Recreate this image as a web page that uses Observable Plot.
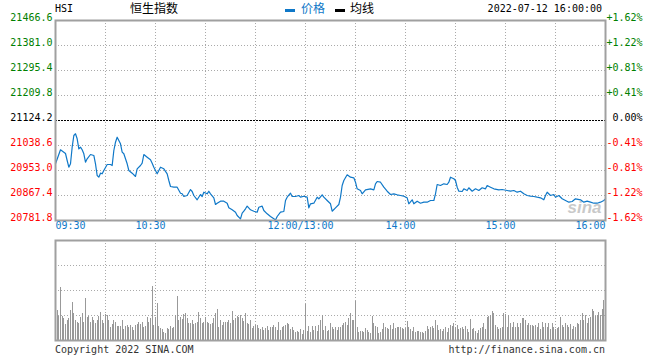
<!DOCTYPE html>
<html><head><meta charset="utf-8">
<script src="https://cdn.jsdelivr.net/npm/d3@7"></script>
<script src="https://cdn.jsdelivr.net/npm/@observablehq/plot@0.6"></script>
<style>
body{margin:0;background:#fff;}
#wrap{position:relative;width:660px;height:360px;overflow:hidden;font-family:"DejaVu Sans Mono",monospace;font-size:10px;background:#fff;}
.abs{position:absolute;white-space:nowrap;line-height:1;}
.cjk{font-family:"Noto Sans CJK SC",sans-serif;font-size:12px;}
#topc,#vol{position:absolute;left:0;}
#topc{top:0}
#vol{top:235px}
.sw{position:absolute;height:3px;width:10px;}
</style></head><body>
<div id="wrap">
<div id="topc"></div><div id="vol"></div>
<div class="abs" style="left:55px;top:4px">HSI</div>
<div class="abs cjk" style="left:130px;top:2px">恒生指数</div>
<div class="sw" style="left:285px;top:9px;background:#0f78c8"></div>
<div class="abs cjk" style="left:301px;top:2px;color:#0f78c8">价格</div>
<div class="sw" style="left:335px;top:9px;background:#000"></div>
<div class="abs cjk" style="left:350px;top:2px">均线</div>
<div class="abs" style="right:58px;top:4px">2022-07-12 16:00:00</div>
<div class="abs" style="left:55px;top:345px;color:#333">Copyright 2022 SINA.COM</div>
<div class="abs" style="right:55px;top:345px;color:#333">http://finance.sina.com.cn</div>
</div>
<script>
const prevClose = 21124.2;
const priceTicks = [21466.6, 21381.0, 21295.4, 21209.8, 21124.2, 21038.6, 20953.0, 20867.4, 20781.8];
const pctLabels = ["+1.62%","+1.22%","+0.81%","+0.41%","0.00%","-0.41%","-0.81%","-1.22%","-1.62%"];
const timeLabels = ["09:30","10:30","12:00/13:00","14:00","15:00","16:00"];
const gridTimes = ["10:00","10:30","11:00","11:30","12:00","13:30","14:00","14:30","15:00","15:30"];

const priceTimes = [
"09:30","09:33","09:35","09:36","09:37","09:38","09:39","09:40","09:41","09:42",
"09:43","09:44","09:45","09:46","09:47","09:48","09:49","09:51","09:53","09:54",
"09:55","09:56","09:57","09:58","09:59","10:01","10:03","10:04","10:05","10:06",
"10:07","10:09","10:10","10:11","10:13","10:14","10:16","10:18","10:19","10:21",
"10:22","10:23","10:25","10:27","10:28","10:29","10:31","10:32","10:33","10:35",
"10:37","10:38","10:39","10:41","10:43","10:45","10:46","10:47","10:49","10:51",
"10:52","10:53","10:55","10:57","10:58","10:59","11:01","11:02","11:03","11:05",
"11:06","11:07","11:09","11:11","11:13","11:14","11:16","11:18","11:19","11:21",
"11:22","11:23","11:24","11:25","11:27","11:29","11:31","11:32","11:34","11:35",
"11:37","11:39","11:41","11:42","11:43","11:45","11:47","11:48","11:49","11:51",
"11:52","11:54","11:56","11:57","11:59",
"13:01","13:02","13:03","13:05","13:07","13:08","13:10","13:11","13:13","13:15",
"13:16","13:18","13:20","13:21","13:22","13:23","13:25","13:27","13:29","13:30",
"13:31","13:33","13:34","13:36","13:39","13:41","13:42","13:43","13:45","13:47",
"13:49","13:51","13:53","13:55","13:57","13:59","14:01","14:02","14:04","14:05",
"14:07","14:09","14:11","14:13","14:15","14:17","14:18","14:19","14:21","14:23",
"14:25","14:26","14:27","14:29","14:30","14:31","14:32","14:34","14:35","14:37",
"14:38","14:40","14:42","14:44","14:46","14:48","14:49","14:51","14:53","14:56",
"14:58","15:01","15:03","15:05","15:07","15:09","15:11","15:13","15:15","15:17",
"15:19","15:21","15:23","15:24","15:25","15:27","15:29","15:30","15:32","15:34",
"15:36","15:38","15:40","15:42","15:45","15:47","15:49","15:51","15:53","15:55",
"15:57","15:59","16:00"];
const prices = [
20975.9,21023.9,21015.7,21011.2,20987.2,20964.3,20975.9,21032.8,21072.8,21078.7,
21061.5,21027.3,21032.8,21023.9,21010.2,20981.4,20993.1,21007.8,21004.4,20975.9,
20935.9,20930.1,20943.8,20941.7,20953.0,20973.5,20973.5,20970.1,21021.5,21049.9,
21067.0,21044.4,21015.7,21010.2,20975.9,20953.0,20943.8,20932.5,20958.8,20970.1,
20978.0,21007.8,20998.5,20989.6,20978.0,20964.3,20941.7,20953.0,20964.3,20958.8,
20941.7,20918.8,20898.2,20895.8,20895.8,20875.3,20873.2,20864.0,20867.4,20887.9,
20881.1,20867.4,20852.7,20870.8,20864.0,20878.7,20873.2,20882.1,20873.2,20859.5,
20836.6,20841.0,20847.9,20847.9,20841.0,20825.3,20818.4,20810.2,20798.9,20787.6,
20806.8,20813.6,20821.9,20830.8,20818.4,20813.6,20810.2,20827.3,20830.8,20816.0,
20804.7,20795.5,20787.6,20783.5,20795.5,20810.2,20812.6,20850.3,20861.6,20875.3,
20864.0,20864.0,20867.4,20861.6,20865.0,
20861.6,20825.3,20839.0,20841.0,20861.6,20856.1,20869.8,20861.6,20850.3,20839.0,
20813.6,20825.3,20836.6,20861.6,20901.6,20918.8,20938.3,20930.1,20928.0,20912.9,
20890.3,20884.5,20873.2,20886.9,20890.3,20886.9,20907.5,20915.3,20912.9,20895.8,
20882.1,20870.8,20873.2,20869.8,20867.4,20865.0,20859.5,20839.0,20852.7,20839.0,
20847.9,20841.0,20844.5,20844.5,20850.3,20850.3,20873.2,20905.1,20901.6,20907.5,
20905.1,20912.9,20930.1,20924.6,20918.8,20895.8,20882.1,20881.1,20890.3,20884.5,
20893.8,20882.1,20890.3,20884.5,20893.8,20890.3,20901.6,20895.8,20890.3,20886.9,
20887.9,20884.5,20882.1,20884.5,20878.7,20882.1,20873.2,20867.4,20865.0,20864.0,
20861.6,20859.5,20852.7,20867.4,20878.7,20867.4,20870.8,20861.6,20867.4,20856.1,
20850.3,20844.5,20846.9,20856.1,20852.7,20844.5,20847.9,20844.5,20841.0,20841.0,
20844.5,20850.3,20856.1];

const volumes = [
30,24,53,24,22,16,20,22,30,38,27,20,18,17,23,27,18,42,23,24,
18,23,20,17,20,24,28,20,17,26,25,20,13,16,20,18,14,14,14,20,
11,14,15,13,15,13,10,15,16,18,16,18,13,14,23,18,22,54,15,23,
37,14,12,11,8,7,12,11,14,12,13,25,44,20,23,21,26,27,22,17,
17,20,16,17,18,28,22,17,18,23,18,17,16,17,22,27,31,13,20,15,
18,18,18,20,17,29,20,22,24,23,25,22,19,27,17,16,20,12,14,15,
15,12,11,13,10,12,14,10,13,13,15,13,10,18,10,13,14,15,17,16,
11,13,10,8,9,8,11,6,10,36,9,14,8,14,10,14,9,15,20,25,
10,14,9,10,17,13,11,13,10,13,
13,15,17,18,15,22,27,20,20,39,13,8,9,9,8,12,10,8,7,24,
17,14,13,7,8,11,17,13,12,11,15,11,17,12,13,13,13,12,11,12,
19,13,11,9,13,8,9,9,8,8,7,9,14,11,13,14,12,20,15,10,
11,9,11,13,8,12,15,14,17,13,15,11,12,13,11,14,11,8,21,11,
12,9,7,10,12,13,17,11,23,24,25,29,27,15,13,11,12,13,27,26,
13,25,17,13,18,13,17,13,17,22,22,20,15,17,15,15,14,15,13,17,
11,18,13,17,13,17,11,17,13,11,12,13,23,15,13,17,15,13,16,11,
14,13,17,16,20,27,20,25,17,22,23,31,29,24,25,28,25,31,40];

function sessionMin(s) {
  const [h, m] = s.split("/")[0].split(":").map(Number);
  const t = h * 60 + m;
  return t <= 720 ? t - 570 : t - 780 + 150;
}

const BLUE = "#0f78c8";
const data = priceTimes.map((t, i) => ({t: sessionMin(t), p: prices[i]}));
const font = {fontFamily: "'DejaVu Sans Mono', monospace", fontSize: "10px", background: "transparent", overflow: "visible"};
const greenTicks = priceTicks.filter(d => d > prevClose);
const redTicks = priceTicks.filter(d => d < prevClose);
const pct = d => pctLabels[priceTicks.indexOf(d)];
const innerGrid = priceTicks.filter(d => d !== prevClose && d !== priceTicks[0] && d !== priceTicks[priceTicks.length - 1]);
const gridMins = gridTimes.map(sessionMin);
const tl = timeLabels.map(s => ({s, t: sessionMin(s)}));

const priceChart = Plot.plot({
  width: 660, height: 235,
  marginLeft: 55, marginRight: 55, marginTop: 20, marginBottom: 15,
  style: font,
  x: {domain: [0, 330], axis: null},
  y: {domain: [priceTicks[priceTicks.length - 1], priceTicks[0]], axis: null},
  marks: [
    Plot.gridX(gridMins, {stroke: "#aaa", strokeOpacity: 1, strokeDasharray: "1,2"}),
    Plot.gridY(innerGrid, {stroke: "#aaa", strokeOpacity: 1, strokeDasharray: "1,2"}),
    Plot.ruleY([prevClose], {stroke: "#000", strokeDasharray: "2,1"}),
    Plot.text(["sina"], {frameAnchor: "bottom-right", dx: -4, dy: -8, fontSize: 17, fontWeight: "bold", fontStyle: "italic", fontFamily: "Liberation Sans, sans-serif", fill: "#bbb", fillOpacity: 0.8}),
    Plot.line(data, {x: "t", y: "p", stroke: BLUE, strokeWidth: 1.2}),
    Plot.frame({stroke: "#a0a0a0", strokeWidth: 2}),
    Plot.axisY(greenTicks, {anchor: "left", tickSize: 0, tickPadding: 3, fill: "#008000", tickFormat: d => d.toFixed(1), lineAnchor: "bottom", label: null}),
    Plot.axisY([prevClose], {anchor: "left", tickSize: 0, tickPadding: 3, fill: "#000", tickFormat: d => d.toFixed(1), lineAnchor: "bottom", label: null}),
    Plot.axisY(redTicks, {anchor: "left", tickSize: 0, tickPadding: 3, fill: "#f00", tickFormat: d => d.toFixed(1), lineAnchor: "bottom", label: null}),
    Plot.axisY(greenTicks, {anchor: "right", tickSize: 0, tickPadding: 37, textAnchor: "end", fill: "#008000", tickFormat: pct, lineAnchor: "bottom", label: null}),
    Plot.axisY([prevClose], {anchor: "right", tickSize: 0, tickPadding: 37, textAnchor: "end", fill: "#000", tickFormat: pct, lineAnchor: "bottom", label: null}),
    Plot.axisY(redTicks, {anchor: "right", tickSize: 0, tickPadding: 37, textAnchor: "end", fill: "#f00", tickFormat: pct, lineAnchor: "bottom", label: null}),
    Plot.text(tl.slice(0, 1), {x: "t", text: "s", frameAnchor: "bottom", dy: 8, textAnchor: "start", fill: BLUE}),
    Plot.text(tl.slice(1, -1), {x: "t", text: "s", frameAnchor: "bottom", dy: 8, dx: -5, textAnchor: "middle", fill: BLUE}),
    Plot.text(tl.slice(-1), {x: "t", text: "s", frameAnchor: "bottom", dy: 8, textAnchor: "end", fill: BLUE})
  ]
});
document.getElementById("topc").appendChild(priceChart);

const volChart = Plot.plot({
  width: 660, height: 125,
  marginLeft: 55, marginRight: 55, marginTop: 5, marginBottom: 20,
  style: font,
  x: {domain: [0, 330], axis: null, round: true},
  y: {domain: [0, 100], axis: null},
  marks: [
    Plot.gridX(gridMins, {stroke: "#aaa", strokeOpacity: 1, strokeDasharray: "1,2"}),
    Plot.gridY([25, 50, 75], {stroke: "#aaa", strokeOpacity: 1, strokeDasharray: "1,2"}),
    Plot.ruleX(volumes, {x: (d, i) => i + 1, y1: 0, y2: d => d, stroke: "#999", strokeWidth: 1}),
    Plot.frame({stroke: "#a0a0a0", strokeWidth: 2})
  ]
});
document.getElementById("vol").appendChild(volChart);
</script>
</body></html>
